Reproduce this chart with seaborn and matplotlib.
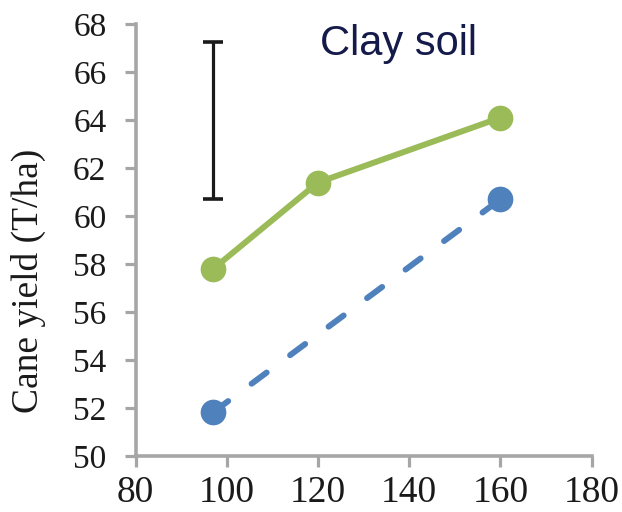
import matplotlib
matplotlib.use("Agg")
import matplotlib.pyplot as plt
import seaborn as sns
import pandas as pd

# Nitrogen rate (kg N/ha) and cane yield (T/ha) on clay soil
n_rate_a = [97, 120, 160]
yield_a = [57.8, 61.4, 64.1]
n_rate_b = [97, 160]
yield_b = [51.83, 60.7]

# LSD bar
lsd_x = [97]
lsd_low = [60.7]
lsd_high = [67.27]

x_ticks = [80, 100, 120, 140, 160, 180]
y_ticks = [50, 52, 54, 56, 58, 60, 62, 64, 66, 68]

GREEN = "#9BBB59"
BLUE = "#4F81BD"
AXIS_GREY = "#A6A6A6"
TEXT = "#1a1a1a"

sns.set_style("white")
plt.rcParams["font.family"] = ["Liberation Serif", "DejaVu Serif"]
plt.rcParams["lines.scale_dashes"] = False

fig = plt.figure(figsize=(6.22, 5.12), dpi=100)
ax = fig.add_axes([0.218, 0.109, 0.733, 0.844])

df_a = pd.DataFrame({"n": n_rate_a, "y": yield_a})
df_b = pd.DataFrame({"n": n_rate_b, "y": yield_b})

sns.lineplot(data=df_b, x="n", y="y", ax=ax, color=BLUE, lw=4.3,
             marker="o", markersize=18.5, markeredgewidth=0, zorder=3)
blue_line = ax.lines[-1]
blue_line.set_dashes([13.5, 21.0])
blue_line.set_dash_capstyle("round")

sns.lineplot(data=df_a, x="n", y="y", ax=ax, color=GREEN, lw=4.3,
             marker="o", markersize=18.5, markeredgewidth=0, zorder=4)

# LSD bar
for x, lo, hi in zip(lsd_x, lsd_low, lsd_high):
    mid = (lo + hi) / 2
    ax.errorbar([x], [mid], yerr=[[mid - lo], [hi - mid]], fmt="none",
                ecolor=TEXT, elinewidth=2.3, capsize=7.5, capthick=2.6,
                zorder=5)

ax.set_xlim(80, 180)
ax.set_ylim(50, 68)
ax.set_xticks(x_ticks)
ax.set_yticks(y_ticks)
ax.tick_params(axis="both", direction="out", length=8, width=2.3,
               color=AXIS_GREY, labelcolor=TEXT, bottom=True, left=True)
ax.tick_params(axis="x", labelsize=27, pad=6)
ax.tick_params(axis="y", labelsize=24, pad=13)

for side in ("top", "right"):
    ax.spines[side].set_visible(False)
for side in ("left", "bottom"):
    ax.spines[side].set_color(AXIS_GREY)
    ax.spines[side].set_linewidth(2.6)

ax.set_xlabel("")
ax.set_ylabel("Cane yield (T/ha)", fontsize=27, color=TEXT)
ax.yaxis.set_label_coords(-0.197, 0.405)

ax.text(0.405, 0.955, "Clay soil", transform=ax.transAxes, fontsize=30,
        color="#141A4A", family=["Liberation Sans", "DejaVu Sans"],
        ha="left", va="center")

fig.savefig("out.png", dpi=100)
